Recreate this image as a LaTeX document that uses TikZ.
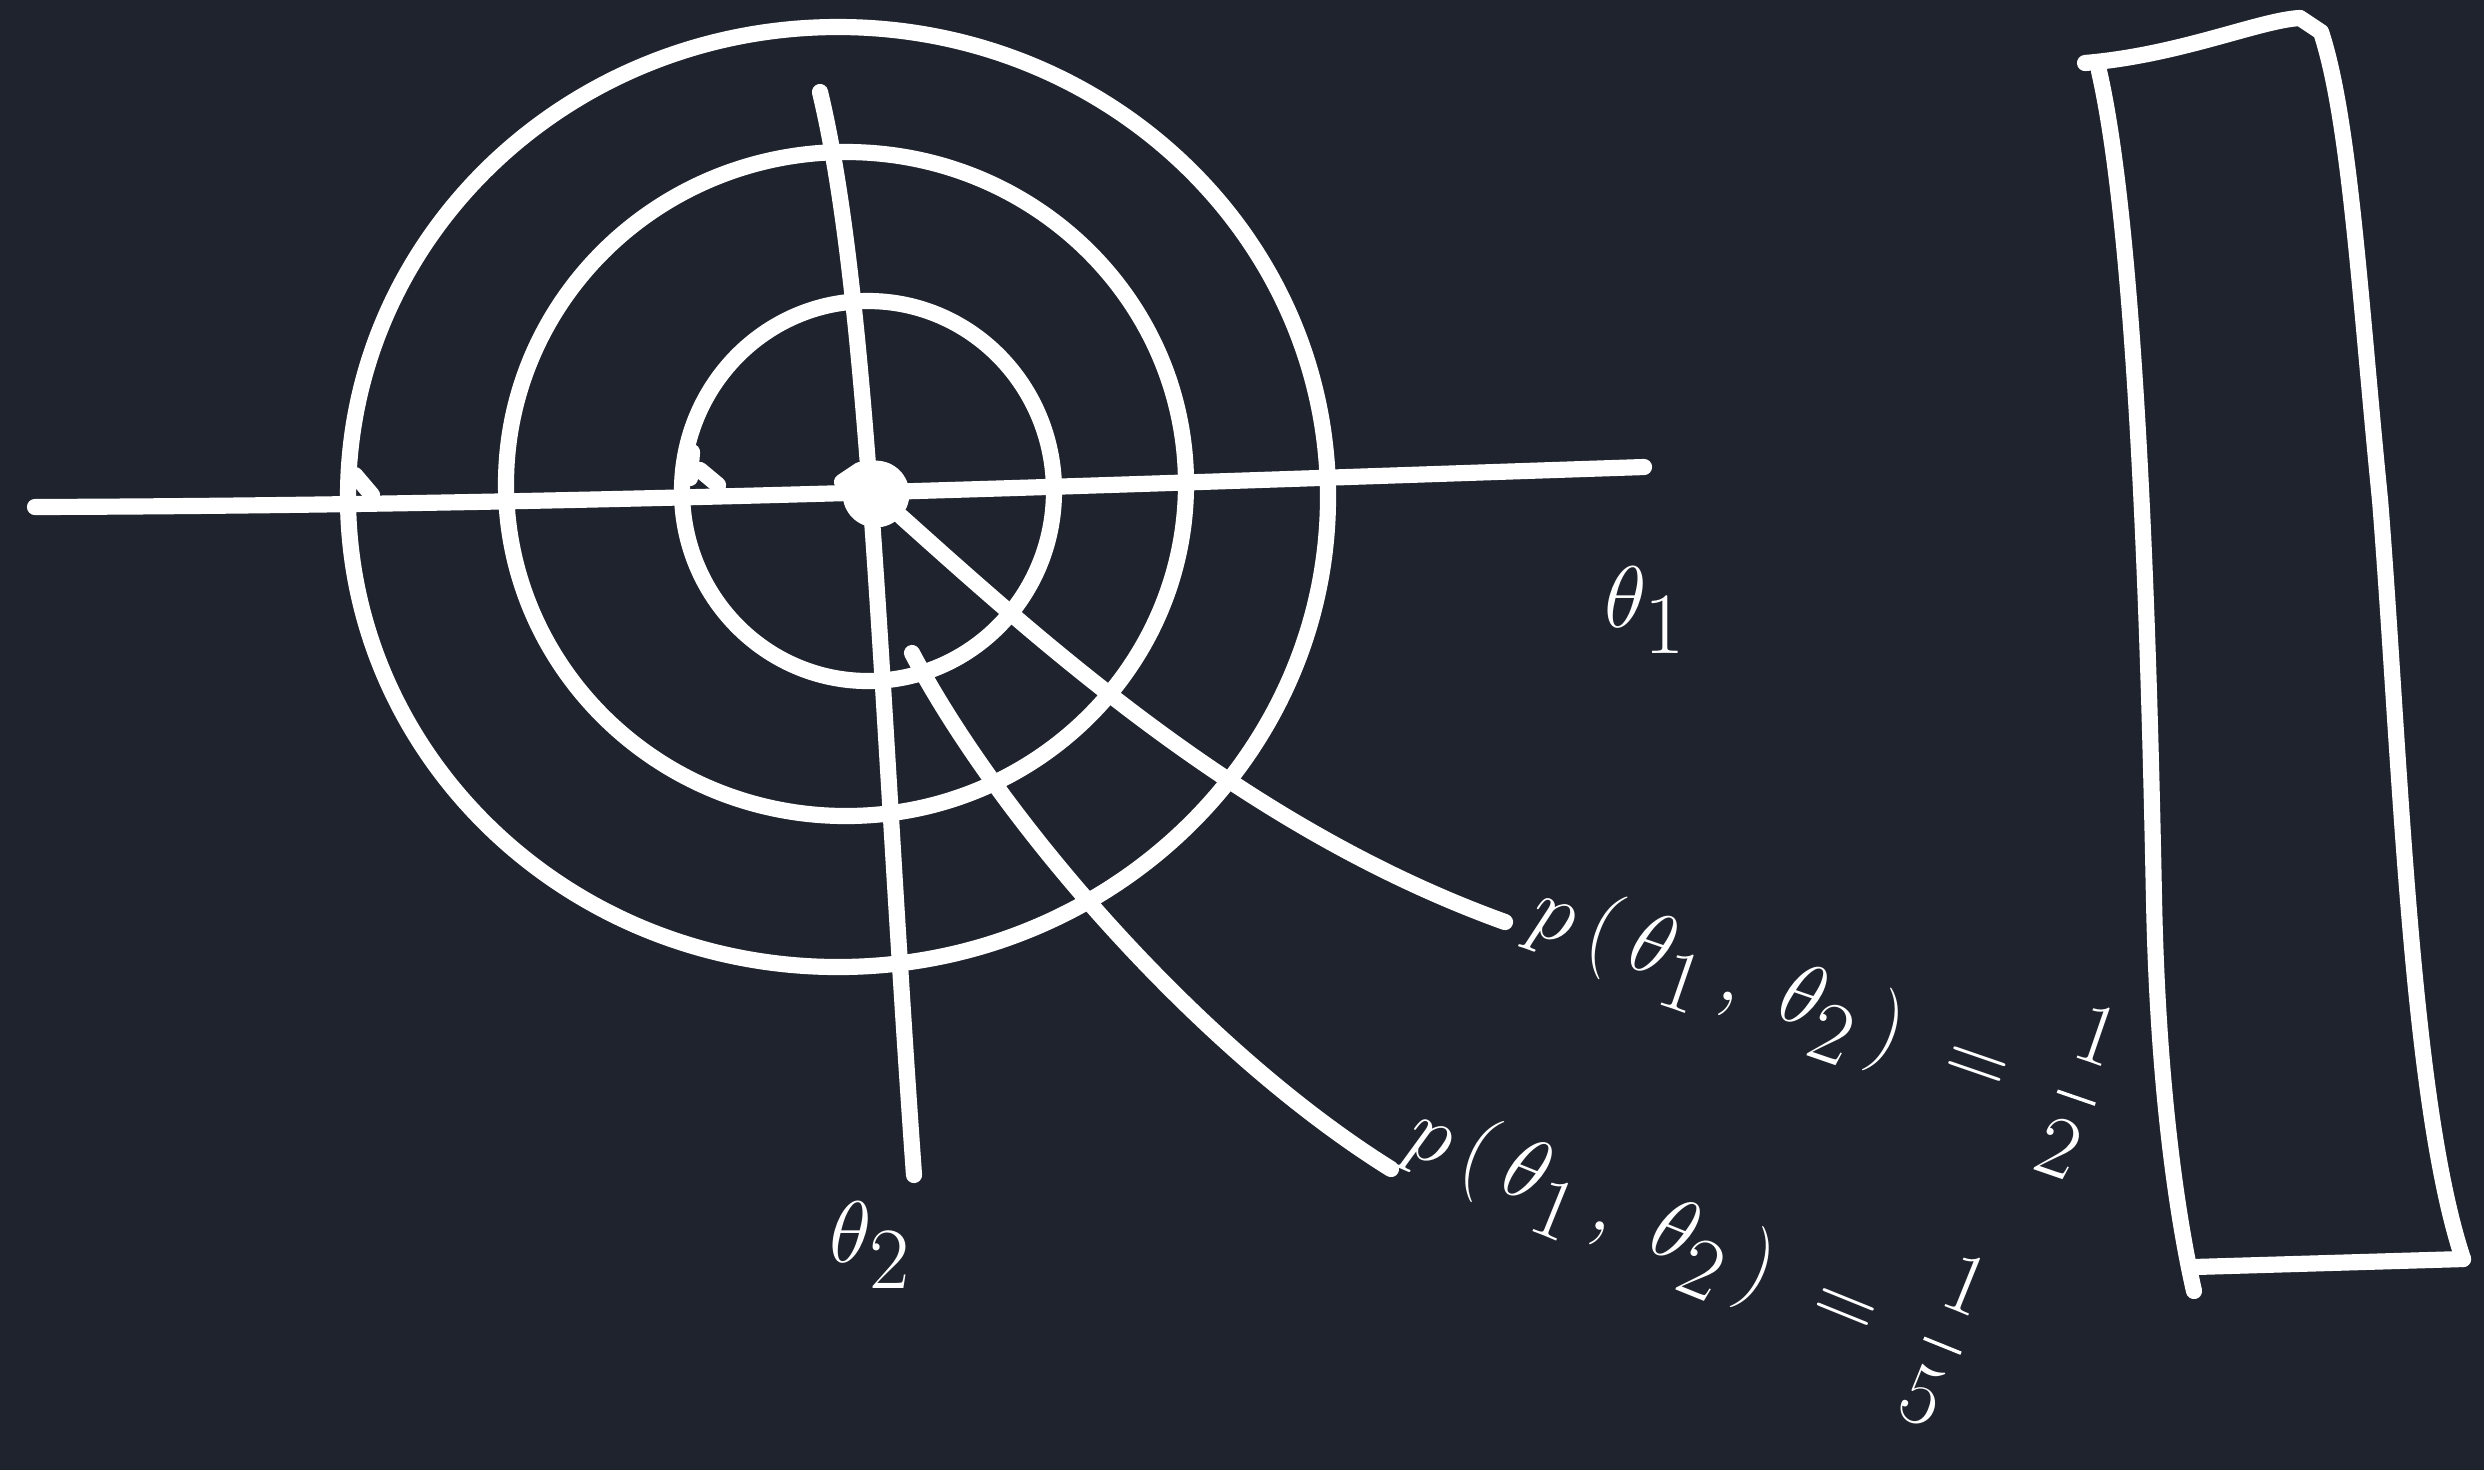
\documentclass[tikz,border=0pt]{standalone}
\usepackage{amsmath}
\definecolor{bg}{RGB}{30,35,45}
\tikzset{
  ink/.style={draw=white,line width=4.6pt,line cap=round,line join=round},
  lab/.style={text=white,font=\fontsize{46}{54}\selectfont,inner sep=0pt},
  plab/.style={text=white,font=\fontsize{38}{46}\selectfont,inner sep=0pt}
}
\begin{document}
\begin{tikzpicture}[x=0.1mm,y=-0.1mm]
\fill[bg] (0,0) rectangle (2484,1470);
\useasboundingbox (0,0) rectangle (2484,1470);
% centre dot
\node[circle,fill=white,minimum size=19pt,inner sep=0pt] (c) at (876,494) {};
% axes
\coordinate (hl) at (35,507);
\coordinate (hr) at (1644,467);
\draw[ink] (hl) .. controls (600,505) and (1100,485) .. (hr);
\coordinate (vt) at (820,92);
\coordinate (vb) at (914,1175);
\draw[ink] (vt) .. controls (870,300) and (880,700) .. (vb);
% circles
\draw[ink] (868,491) ellipse [x radius=186, y radius=190];
\draw[ink] (846,484) ellipse [x radius=340, y radius=332];
\draw[ink] (838,497) ellipse [x radius=490, y radius=470];
% small ticks
\draw[ink] (355,475) -- (372,495);
\draw[ink] (692,452) -- (690,478);
\draw[ink] (700,470) -- (718,485);
\draw[ink] (842,482) -- (860,470);
% diagonal rays
\coordinate (e1) at (1505,922);
\coordinate (e2) at (1391,1169);
\coordinate (s2) at (912,653);
\draw[ink] (c) .. controls (1050,650) and (1250,830) .. (e1);
\draw[ink] (s2) .. controls (1000,820) and (1200,1050) .. (e2);
% labels
\node[lab] (t1) at (1645,610) {$\theta_1$};
\node[lab] (t2) at (870,1245) {$\theta_2$};
\node[plab,rotate=-19,anchor=west] (p1) at (1535,905)
  {$p\,(\,\theta_1\,,\;\theta_2\,)\;=\;\dfrac{1}{2}$};
\node[plab,rotate=-22,anchor=west] (p2) at (1412,1125)
  {$p\,(\,\theta_1\,,\;\theta_2\,)\;=\;\dfrac{1}{5}$};
% right rectangle
\coordinate (r1) at (2085,63);
\coordinate (r2) at (2321,32);
\coordinate (r3) at (2463,1259);
\coordinate (r4) at (2194,1267);
\draw[ink] (r1) .. controls (2180,55) and (2260,20) .. (2300,18) -- (r2)
  .. controls (2350,120) and (2360,300) .. (2380,500)
  .. controls (2400,750) and (2410,1100) .. (r3);
\draw[ink] (r3) -- (r4);
\draw[ink] (2099,71) .. controls (2140,250) and (2150,700) .. (2154,900)
  .. controls (2158,1100) and (2180,1230) .. (2194,1291);
\end{tikzpicture}
\end{document}
